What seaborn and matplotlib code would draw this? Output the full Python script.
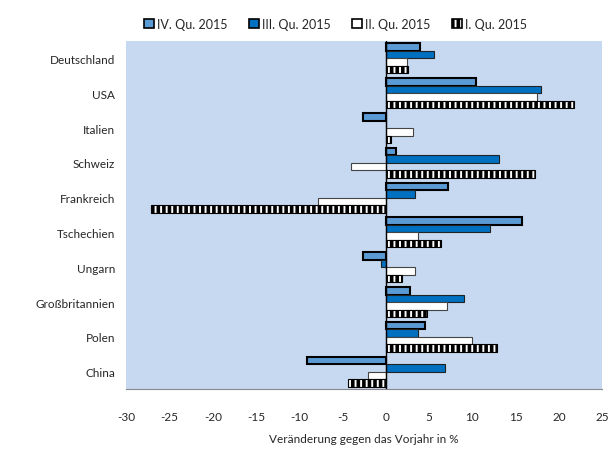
import pandas as pd
import numpy as np
import matplotlib.pyplot as plt
import seaborn as sns
from matplotlib.patches import Patch

# Data (change vs previous year in %)
countries = ['Deutschland', 'USA', 'Italien', 'Schweiz', 'Frankreich',
             'Tschechien', 'Ungarn', 'Großbritannien', 'Polen', 'China']
quarters = ['IV. Qu. 2015', 'III. Qu. 2015', 'II. Qu. 2015', 'I. Qu. 2015']

q4 = [3.9, 10.4, -2.6, 1.2, 7.2, 15.8, -2.6, 2.8, 4.5, -9.1]
q3 = [5.6, 17.9, 0.0, 13.1, 3.4, 12.0, -0.6, 9.0, 3.7, 6.8]
q2 = [2.4, 17.5, 3.1, -4.0, -7.8, 3.7, 3.4, 7.1, 10.0, -2.1]
q1 = [2.6, 21.7, 0.6, 17.3, -27.1, 6.4, 1.9, 4.8, 12.9, -4.4]

x_ticks = [-30, -25, -20, -15, -10, -5, 0, 5, 10, 15, 20, 25]

df = pd.DataFrame({
    'land': countries * 4,
    'quartal': np.repeat(quarters, len(countries)),
    'wert': q4 + q3 + q2 + q1,
})

sns.set_style('white')
plt.rcParams['font.family'] = ['Lato', 'DejaVu Sans']
plt.rcParams['hatch.linewidth'] = 2.6

fig = plt.figure(figsize=(6.1, 4.52), dpi=100)
ax = fig.add_axes([0.207, 0.137, 0.780, 0.770])
ax.set_facecolor('#C6D9F0')

colors = ['#5B9BD5', '#0070C0', '#FFFFFF', '#FFFFFF']
sns.barplot(data=df, y='land', x='wert', hue='quartal', order=countries,
            hue_order=quarters, palette=colors, orient='h', width=0.86,
            dodge=True, ax=ax, saturation=1)

styles = [
    dict(edgecolor='black', linewidth=1.5, hatch=None),
    dict(edgecolor='#222222', linewidth=0.8, hatch=None),
    dict(edgecolor='#444444', linewidth=0.8, hatch=None),
    dict(edgecolor='black', linewidth=0.8, hatch='|||'),
]
for cont, st in zip(ax.containers, styles):
    for p in cont:
        p.set_edgecolor(st['edgecolor'])
        p.set_linewidth(st['linewidth'])
        if st['hatch']:
            p.set_hatch(st['hatch'])

ax.axvline(0, color='black', linewidth=1.0, zorder=5)
ax.set_xlim(-30, 25)
ax.set_xticks(x_ticks)
ax.set_xticklabels([str(t) for t in x_ticks], fontsize=8.5)
ax.tick_params(axis='x', length=4, color='#888888', direction='out', pad=12)
ax.tick_params(axis='y', length=0, labelsize=8.5, pad=8)
ax.set_ylabel('')
ax.set_xlabel('Veränderung gegen das Vorjahr in %', fontsize=8.5, labelpad=8)
for s in ['top', 'right', 'left']:
    ax.spines[s].set_visible(False)
ax.spines['bottom'].set_color('#888888')

handles = [Patch(facecolor=c, edgecolor='black', linewidth=1.2, hatch=st['hatch'])
           for c, st in zip(colors, styles)]
ax.legend(handles, quarters, loc='lower center', bbox_to_anchor=(0.44, 1.0),
          ncol=4, frameon=False, fontsize=9, handlelength=0.8,
          handleheight=0.8, handletextpad=0.25, columnspacing=1.7)

plt.savefig('out.png', dpi=100)
